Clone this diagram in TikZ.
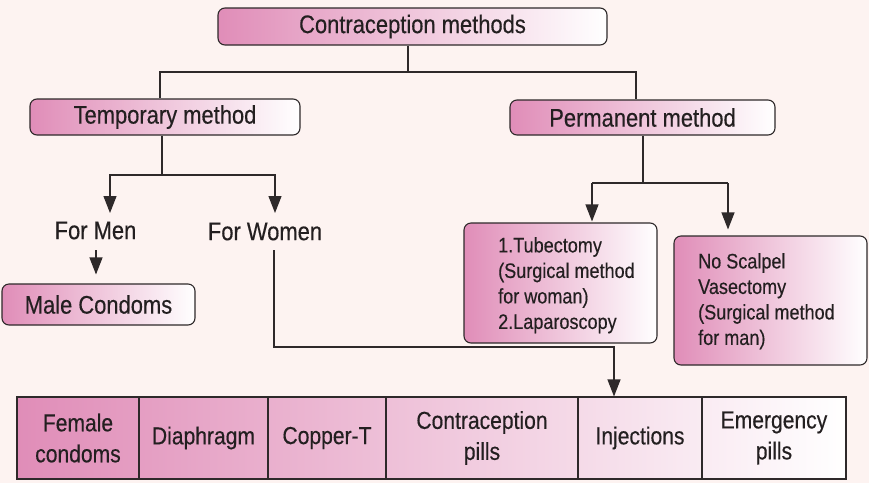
\documentclass[tikz,border=0pt]{standalone}
\usepackage{fontspec}
\setmainfont{Liberation Sans}[FakeStretch=0.86,FakeBold=0.35]
\usetikzlibrary{arrows.meta}
\definecolor{bg}{HTML}{FDF3F1}
\definecolor{pk}{HTML}{E08DB8}
\definecolor{ln}{HTML}{2E292A}
\definecolor{tx}{HTML}{231F20}
\begin{document}
\begin{tikzpicture}[x=1pt,y=-1pt,
  box/.style={draw=ln, line width=1.1pt, rounded corners=7pt, left color=pk, right color=white,
    inner sep=0pt, text=tx, font=\fontsize{25.5}{30}\selectfont},
  sbox/.style={draw=ln, line width=1.1pt, rounded corners=7pt, left color=pk, right color=white, inner sep=0pt},
  plain/.style={inner sep=0pt, text=tx, font=\fontsize{25.5}{30}\selectfont},
  small/.style={inner sep=0pt, text=tx, align=left, font=\fontsize{21}{25.5}\selectfont},
  cell/.style={draw=ln, line width=1.1pt, inner sep=0pt, text=tx, align=center,
    minimum height=82pt, font=\fontsize{24.5}{31}\selectfont},
  conn/.style={draw=ln, line width=1.1pt},
  arr/.style={conn, -{Triangle[width=13pt,length=17pt]}}
]
\useasboundingbox[fill=bg] (0,0) rectangle (869,483);

% boxes
\node[box, minimum width=389pt, minimum height=37pt] (top) at (412.5,26.5) {Contraception methods};
\node[box, minimum width=270pt, minimum height=36pt] (tmp) at (165,117) {Temporary method};
\node[box, minimum width=265pt, minimum height=35pt] (pmt) at (642.5,117.5) {Permanent method};
\node[box, minimum width=193pt, minimum height=41pt] (male) at (98.5,304.5) {Male Condoms};
\node[plain] (formen) at (95.5,230.5) {For Men};
\node[plain] (forwomen) at (265,231.5) {For Women};

\node[sbox, minimum width=193pt, minimum height=120pt] (tub) at (560.5,283) {};
\node[small, anchor=north west] (tubtxt) at (498,237) {1.Tubectomy\\(Surgical method\\for woman)\\2.Laparoscopy};
\node[sbox, minimum width=193pt, minimum height=129pt] (vas) at (770.5,300.5) {};
\node[small, anchor=north west] (vastxt) at (698,253) {No Scalpel\\Vasectomy\\(Surgical method\\for man)};

% bottom row
\shade[left color=pk, right color=white] (17,397) rectangle (846,479);
\node[cell, minimum width=122pt] (c1) at (78,438) {Female\\condoms};
\node[cell, minimum width=129pt] (c2) at (203.5,438) {Diaphragm};
\node[cell, minimum width=118pt] (c3) at (327,438) {Copper-T};
\node[cell, minimum width=192pt] (c4) at (482,438) {Contraception\\pills};
\node[cell, minimum width=124pt] (c5) at (640,438) {Injections};
\node[cell, minimum width=144pt] (c6) at (774,438) {Emergency\\pills};

% connectors
\coordinate (j1) at (408,72);
\coordinate (jl) at (160,72);
\coordinate (jr) at (636,72);
\draw[conn] (top.south -| j1) -- (j1);
\draw[conn] (tmp.north -| jl) -- (jl) -- (jr) -- (pmt.north -| jr);

\coordinate (t1) at (162,175);
\coordinate (aL) at (110,213);
\coordinate (aR) at (275,213);
\draw[conn] (tmp.south -| t1) -- (t1);
\draw[arr] (t1) -| (aL);
\draw[arr] (t1) -| (aR);

\coordinate (m1) at (96,250);
\draw[arr, shorten >=9pt] (m1) -- (male.north -| m1);

\coordinate (w1) at (274,250);
\coordinate (w2) at (274,347);
\coordinate (w3) at (614,347);
\draw[arr] (w1) -- (w2) -- (w3) -- (c5.north -| w3);

\coordinate (p1) at (643,183);
\coordinate (pL) at (592,183);
\coordinate (pR) at (728,183);
\draw[conn] (pmt.south -| p1) -- (p1);
\draw[conn] (pL) -- (pR);
\draw[arr, shorten >=1pt] (pL) -- (tub.north -| pL);
\draw[arr, shorten >=6pt] (pR) -- (vas.north -| pR);
\end{tikzpicture}
\end{document}
